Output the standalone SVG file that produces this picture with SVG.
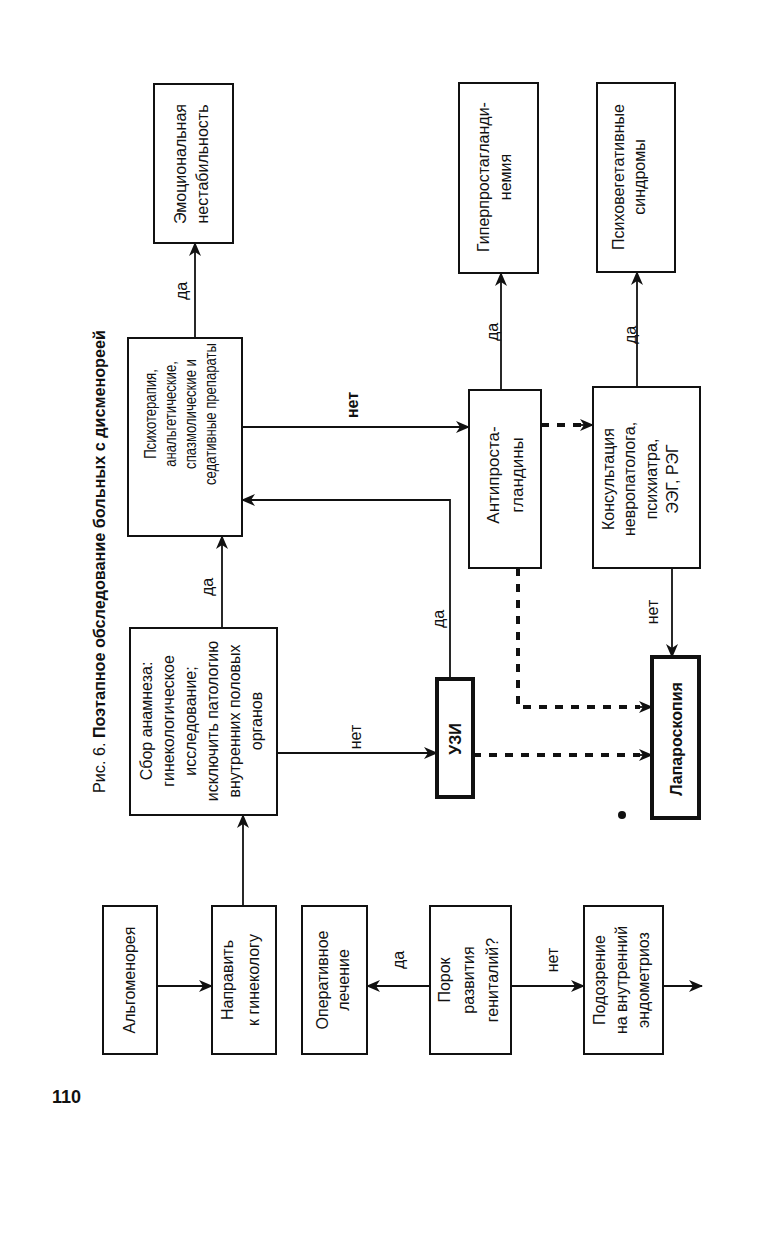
<svg xmlns="http://www.w3.org/2000/svg" width="776" height="1234" viewBox="0 0 776 1234">
<style>
.box{fill:#fff;stroke:#111;stroke-width:2}
.thick{fill:#fff;stroke:#111;stroke-width:4}
.t{font-family:"Liberation Sans",Arial,sans-serif;font-size:16px;fill:#111;text-anchor:middle;dominant-baseline:central}
.b{font-weight:bold}
.ln{fill:none;stroke:#111;stroke-width:1.8}
.ar{marker-end:url(#ah)}
.dash{fill:none;stroke:#111;stroke-width:4;stroke-dasharray:8 8}
</style>
<defs>
<marker id="ah" viewBox="0 0 14 12" refX="13" refY="6" markerWidth="14" markerHeight="12" markerUnits="userSpaceOnUse" orient="auto"><path d="M0,0 L14,6 L0,12 L4,6 z" fill="#111"/></marker>
</defs>
<rect width="776" height="1234" fill="#fff"/>

<g id="title">
<text transform="translate(105,793) rotate(-90)" font-family="Liberation Sans,Arial,sans-serif" font-size="16" fill="#111" textLength="463" lengthAdjust="spacingAndGlyphs">Рис. 6. <tspan font-weight="bold">Поэтапное обследование больных с дисменореей</tspan></text>
</g>
<g id="page-number">
<text x="52" y="1103" font-family="Liberation Sans,Arial,sans-serif" font-size="18" font-weight="bold" fill="#111">110</text>
</g>

<g id="connectors">
<line class="ln ar" x1="157" y1="986" x2="212" y2="986"/>
<line class="ln ar" x1="243" y1="906" x2="243" y2="815"/>
<line class="ln ar" x1="222" y1="628" x2="222" y2="536"/>
<line class="ln ar" x1="277" y1="753" x2="437" y2="753"/>
<polyline class="ln ar" points="450,679 450,500 242,500"/>
<line class="ln ar" x1="195" y1="338" x2="195" y2="243"/>
<line class="ln ar" x1="242" y1="427" x2="469" y2="427"/>
<line class="ln ar" x1="501" y1="390" x2="501" y2="273"/>
<line class="ln ar" x1="637" y1="387" x2="637" y2="272"/>
<line class="ln ar" x1="672" y1="568" x2="672" y2="657"/>
<line class="ln ar" x1="430" y1="986" x2="367" y2="986"/>
<line class="ln ar" x1="511" y1="986" x2="584" y2="986"/>
<line class="ln ar" x1="663" y1="986" x2="702" y2="986" stroke-width="3"/>
<line class="dash" x1="541" y1="425" x2="582" y2="425"/>
<line class="ln ar" x1="580" y1="425" x2="593" y2="425" stroke-width="0.5"/>
<polyline class="dash" points="518,568 518,707 640,707"/>
<line class="ln ar" x1="638" y1="707" x2="652" y2="707" stroke-width="0.5"/>
<line class="dash" x1="473" y1="755" x2="640" y2="755"/>
<line class="ln ar" x1="638" y1="755" x2="652" y2="755" stroke-width="0.5"/>
<text class="t" transform="translate(181,291) rotate(-90)">да</text>
<text class="t" transform="translate(207,587) rotate(-90)">да</text>
<text class="t b" transform="translate(352,405) rotate(-90)">нет</text>
<text class="t" transform="translate(355,737) rotate(-90)">нет</text>
<text class="t" transform="translate(438,619) rotate(-90)">да</text>
<text class="t" transform="translate(492,332) rotate(-90)">да</text>
<text class="t" transform="translate(630,335) rotate(-90)">да</text>
<text class="t" transform="translate(652,612) rotate(-90)">нет</text>
<text class="t" transform="translate(398,960) rotate(-90)">да</text>
<text class="t" transform="translate(552,960) rotate(-90)">нет</text>
</g>

<g id="n-algomenoreya">
<rect class="box" x="103" y="906" width="54" height="148"/>
<text class="t" transform="translate(129,980) rotate(-90)">Альгоменорея</text>
</g>
<g id="n-napravit">
<rect class="box" x="212" y="906" width="64" height="148"/>
<text class="t" transform="translate(240,980) rotate(-90)"><tspan x="0" y="-13">Направить</tspan><tspan x="0" y="13">к гинекологу</tspan></text>
</g>
<g id="n-operativnoe">
<rect class="box" x="302" y="906" width="65" height="148"/>
<text class="t" transform="translate(332,980) rotate(-90)"><tspan x="0" y="-10.5">Оперативное</tspan><tspan x="0" y="10.5">лечение</tspan></text>
</g>
<g id="n-porok">
<rect class="box" x="430" y="906" width="81" height="148"/>
<text class="t" transform="translate(468,980) rotate(-90)"><tspan x="0" y="-24">Порок</tspan><tspan x="0" y="0">развития</tspan><tspan x="0" y="24">гениталий?</tspan></text>
</g>
<g id="n-podozrenie">
<rect class="box" x="584" y="906" width="79" height="148"/>
<text class="t" transform="translate(621,980) rotate(-90)"><tspan x="0" y="-22">Подозрение</tspan><tspan x="0" y="0">на внутренний</tspan><tspan x="0" y="22">эндометриоз</tspan></text>
</g>
<g id="n-sbor">
<rect class="box" x="130" y="628" width="147" height="187"/>
<text class="t" transform="translate(201,721) rotate(-90)"><tspan x="0" y="-55">Сбор анамнеза:</tspan><tspan x="0" y="-33">гинекологическое</tspan><tspan x="0" y="-11">исследование;</tspan><tspan x="0" y="11">исключить патологию</tspan><tspan x="0" y="33">внутренних половых</tspan><tspan x="0" y="55">органов</tspan></text>
</g>
<g id="n-psychotherapy">
<rect class="box" x="128" y="338" width="114" height="198"/>
<text class="t" transform="translate(181,414) rotate(-90) scale(0.82,1)"><tspan x="0" y="-30">Психотерапия,</tspan><tspan x="0" y="-10">анальгетические,</tspan><tspan x="0" y="10">спазмолические и</tspan><tspan x="0" y="30">седативные препараты</tspan></text>
</g>
<g id="n-emotional">
<rect class="box" x="154" y="84" width="79" height="159"/>
<text class="t" transform="translate(191,164) rotate(-90)"><tspan x="0" y="-11">Эмоциональная</tspan><tspan x="0" y="11">нестабильность</tspan></text>
</g>
<g id="n-uzi">
<rect class="thick" x="437" y="679" width="36" height="118"/>
<text class="t b" transform="translate(455,739) rotate(-90)">УЗИ</text>
</g>
<g id="n-antiprosta">
<rect class="box" x="469" y="390" width="72" height="178"/>
<text class="t" style="font-size:17px" transform="translate(505,475) rotate(-90)"><tspan x="0" y="-12">Антипроста-</tspan><tspan x="0" y="12">гландины</tspan></text>
</g>
<g id="n-giperprosta">
<rect class="box" x="459" y="83" width="79" height="190"/>
<text class="t" transform="translate(494,177) rotate(-90)"><tspan x="0" y="-11">Гиперпростагланди-</tspan><tspan x="0" y="11">немия</tspan></text>
</g>
<g id="n-konsult">
<rect class="box" x="593" y="387" width="107" height="181"/>
<text class="t" transform="translate(640,479) rotate(-90)"><tspan x="0" y="-32">Консультация</tspan><tspan x="0" y="-11">невропатолога,</tspan><tspan x="0" y="11">психиатра,</tspan><tspan x="0" y="32">ЭЭГ, РЭГ</tspan></text>
</g>
<g id="n-psychoveg">
<rect class="box" x="597" y="83" width="78" height="189"/>
<text class="t" transform="translate(628,177) rotate(-90)"><tspan x="0" y="-10.5">Психовегетативные</tspan><tspan x="0" y="10.5">синдромы</tspan></text>
</g>
<g id="n-laparoskopia">
<rect class="thick" x="652" y="657" width="47" height="161"/>
<text class="t b" transform="translate(676,739) rotate(-90)">Лапароскопия</text>
</g>
<circle cx="622" cy="815" r="4" fill="#111"/>
</svg>
